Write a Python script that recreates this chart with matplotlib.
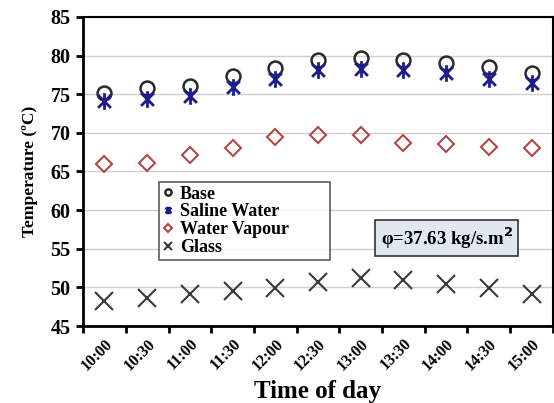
import numpy as np
import matplotlib.pyplot as plt
from matplotlib.path import Path

times = ['10:00', '10:30', '11:00', '11:30', '12:00', '12:30',
         '13:00', '13:30', '14:00', '14:30', '15:00']
base = [75.2, 75.8, 76.1, 77.3, 78.4, 79.4, 79.7, 79.4, 79.1, 78.5, 77.7]
saline = [74.1, 74.4, 74.8, 75.9, 77.0, 78.1, 78.3, 78.1, 77.7, 77.0, 76.4]
vapour = [66.0, 66.1, 67.1, 68.1, 69.5, 69.7, 69.7, 68.7, 68.5, 68.2, 68.0]
glass = [48.2, 48.6, 49.2, 49.5, 49.9, 50.7, 51.2, 50.9, 50.5, 49.9, 49.2]

plt.rcParams['font.family'] = ['Liberation Serif', 'DejaVu Serif']
plt.rcParams['font.weight'] = 'bold'

# Excel-style star: an X crossed by a vertical stroke
star = Path([(-1, -1), (1, 1), (-1, 1), (1, -1), (0, -1.3), (0, 1.3)],
            [Path.MOVETO, Path.LINETO, Path.MOVETO, Path.LINETO,
             Path.MOVETO, Path.LINETO])

fig = plt.figure(figsize=(5.54, 4.03), dpi=100)
ax = fig.add_axes([0.150, 0.191, 0.848, 0.767])

x = np.arange(len(times))
ax.plot(x, base, linestyle='none', marker='o', markersize=10, markerfacecolor='none',
        markeredgecolor='#2a2a2a', markeredgewidth=1.8, label='Base')
ax.plot(x, saline, linestyle='none', marker=star, markersize=12,
        markeredgecolor='#1c1c8c', markeredgewidth=2.0, label='Saline Water')
ax.plot(x, vapour, linestyle='none', marker='D', markersize=8, markerfacecolor='none',
        markeredgecolor='#b04848', markeredgewidth=1.5, label='Water Vapour')
ax.plot(x, glass, linestyle='none', marker='x', markersize=12.5,
        markeredgecolor='#3a3a3a', markeredgewidth=1.5, label='Glass')

ax.set_xlim(-0.5, len(times) - 0.5)
ax.set_ylim(45, 85)
ax.set_yticks(np.arange(45, 86, 5))
ax.grid(axis='y', color='#d0d0d0', linewidth=1.0)
ax.set_axisbelow(True)

# ticks sit between categories, labels centred under each point
ax.set_xticks(np.arange(-0.5, len(times), 1.0))
ax.set_xticklabels([])
ax.set_xticks(x, minor=True)
ax.set_xticklabels(times, minor=True, rotation=45, ha='right',
                   rotation_mode='anchor', fontsize=11.5, fontweight='bold')
ax.tick_params(axis='x', which='minor', length=0, pad=7)
ax.tick_params(axis='x', which='major', direction='out', length=5, width=2)
ax.tick_params(axis='y', direction='out', length=5, width=2, labelsize=14.5, pad=4)

for side in ['left', 'bottom', 'top', 'right']:
    ax.spines[side].set_linewidth(2.0 if side in ('left', 'bottom') else 1.5)
    ax.spines[side].set_color('black')

ax.set_xlabel('Time of day', fontsize=18, fontweight='bold', labelpad=5)
ax.set_ylabel('Temperature (ºC)', fontsize=12.5, fontweight='bold', labelpad=9)

leg = ax.legend(loc='upper left', bbox_to_anchor=(0.162, 0.366, 0.364, 0.1),
                mode='expand', markerscale=0.45,
                fontsize=13, frameon=True, fancybox=False, handlelength=0.6,
                handletextpad=0.35, borderpad=0.2, labelspacing=0.05,
                borderaxespad=0)
leg.get_frame().set_edgecolor('#333333')
leg.get_frame().set_linewidth(1.2)

ax.text(0.774, 0.285, 'φ=37.63 kg/s.m$^\\mathbf{2}$', transform=ax.transAxes,
        ha='center', va='center', fontsize=13.5, fontweight='bold',
        bbox=dict(boxstyle='square,pad=0.3', facecolor='#dfe7f1',
                  edgecolor='#333333', linewidth=1.2))

fig.savefig('out.png', dpi=100)
